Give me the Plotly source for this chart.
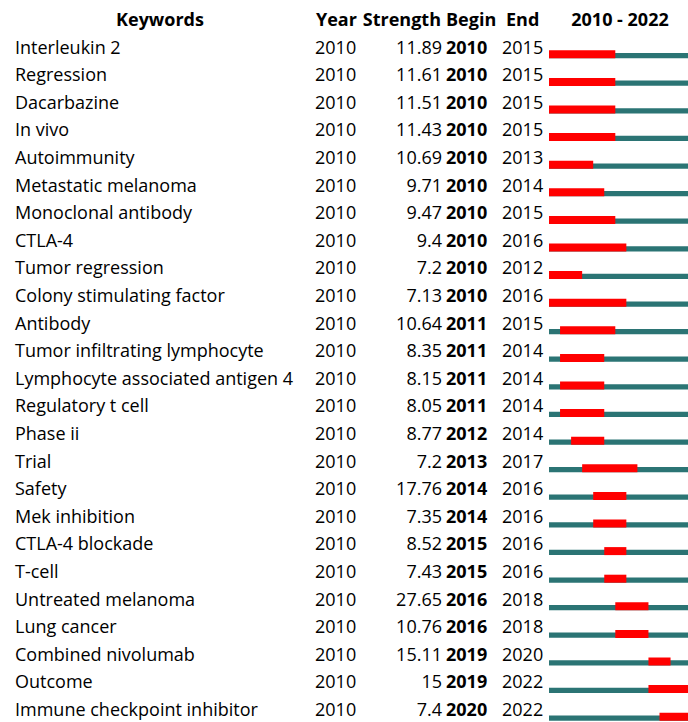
import plotly.graph_objects as go

keywords = ["Interleukin 2", "Regression", "Dacarbazine", "In vivo", "Autoimmunity",
            "Metastatic melanoma", "Monoclonal antibody", "CTLA-4", "Tumor regression",
            "Colony stimulating factor", "Antibody", "Tumor infiltrating lymphocyte",
            "Lymphocyte associated antigen 4", "Regulatory t cell", "Phase ii", "Trial",
            "Safety", "Mek inhibition", "CTLA-4 blockade", "T-cell", "Untreated melanoma",
            "Lung cancer", "Combined nivolumab", "Outcome", "Immune checkpoint inhibitor"]
year = [2010] * 25
strength = [11.89, 11.61, 11.51, 11.43, 10.69, 9.71, 9.47, 9.4, 7.2, 7.13, 10.64, 8.35,
            8.15, 8.05, 8.77, 7.2, 17.76, 7.35, 8.52, 7.43, 27.65, 10.76, 15.11, 15, 7.4]
begin = [2010, 2010, 2010, 2010, 2010, 2010, 2010, 2010, 2010, 2010, 2011, 2011, 2011,
         2011, 2012, 2013, 2014, 2014, 2015, 2015, 2016, 2016, 2019, 2019, 2020]
end = [2015, 2015, 2015, 2015, 2013, 2014, 2015, 2016, 2012, 2016, 2015, 2014, 2014,
       2014, 2014, 2017, 2016, 2016, 2016, 2016, 2018, 2018, 2020, 2022, 2022]
start_year, end_year = 2010, 2022

rows = list(range(len(keywords)))
FONT = "Open Sans"
FS = 18
W, H = 688, 722
TEAL = "#2b7474"
RED = "#ff0000"

fig = go.Figure()

# bars
span = [end_year - start_year + 1] * len(rows)
fig.add_trace(go.Bar(
    y=rows, x=span, base=[start_year] * len(rows), orientation="h",
    marker=dict(color=TEAL, line=dict(width=0)), width=0.19, offset=0.145,
    xaxis="x2", yaxis="y", hoverinfo="skip", showlegend=False))
fig.add_trace(go.Bar(
    y=rows, x=[e - b + 1 for b, e in zip(begin, end)], base=begin, orientation="h",
    marker=dict(color=RED, line=dict(width=0)), width=0.29, offset=0.047,
    xaxis="x2", yaxis="y", hoverinfo="skip", showlegend=False))

def text_col(xpix, texts, pos, bold=False, yvals=None):
    fig.add_trace(go.Scatter(
        x=[xpix] * len(texts), y=yvals if yvals is not None else rows,
        mode="text", text=texts, textposition=pos,
        textfont=dict(family=FONT, size=FS, color="black",
                      weight="bold" if bold else "normal"),
        xaxis="x", yaxis="y", hoverinfo="skip", showlegend=False, cliponaxis=False))

text_col(15, keywords, "middle right")
text_col(315, [str(v) for v in year], "middle right")
text_col(442, [f"{v:g}" for v in strength], "middle left")
text_col(446, [str(v) for v in begin], "middle right", bold=True)
text_col(502, [str(v) for v in end], "middle right")

# headers
headers = [(160, "Keywords", "middle center"), (316, "Year", "middle right"),
           (441, "Strength", "middle left"), (446, "Begin", "middle right"),
           (506, "End", "middle right"), (620, f"{start_year} - {end_year}", "middle center")]
for hx, ht, hp in headers:
    text_col(hx, [ht], hp, bold=True, yvals=[-1])

pitch = 27.6
c0 = 49
fig.update_layout(
    width=W, height=H, margin=dict(l=0, r=0, t=0, b=0),
    paper_bgcolor="white", plot_bgcolor="rgba(0,0,0,0)", barmode="overlay",
    xaxis=dict(domain=[0, 1], range=[0, W], visible=False, fixedrange=True),
    xaxis2=dict(domain=[549 / W, 1], range=[start_year, start_year + (W - 549) / 11.05],
                visible=False, anchor="y", fixedrange=True),
    yaxis=dict(range=[(H - c0) / pitch, -c0 / pitch], visible=False, fixedrange=True),
)

fig.write_html("out.html", config={"displayModeBar": False},
               post_script="document.body.style.margin='0';document.body.style.overflow='hidden';")
